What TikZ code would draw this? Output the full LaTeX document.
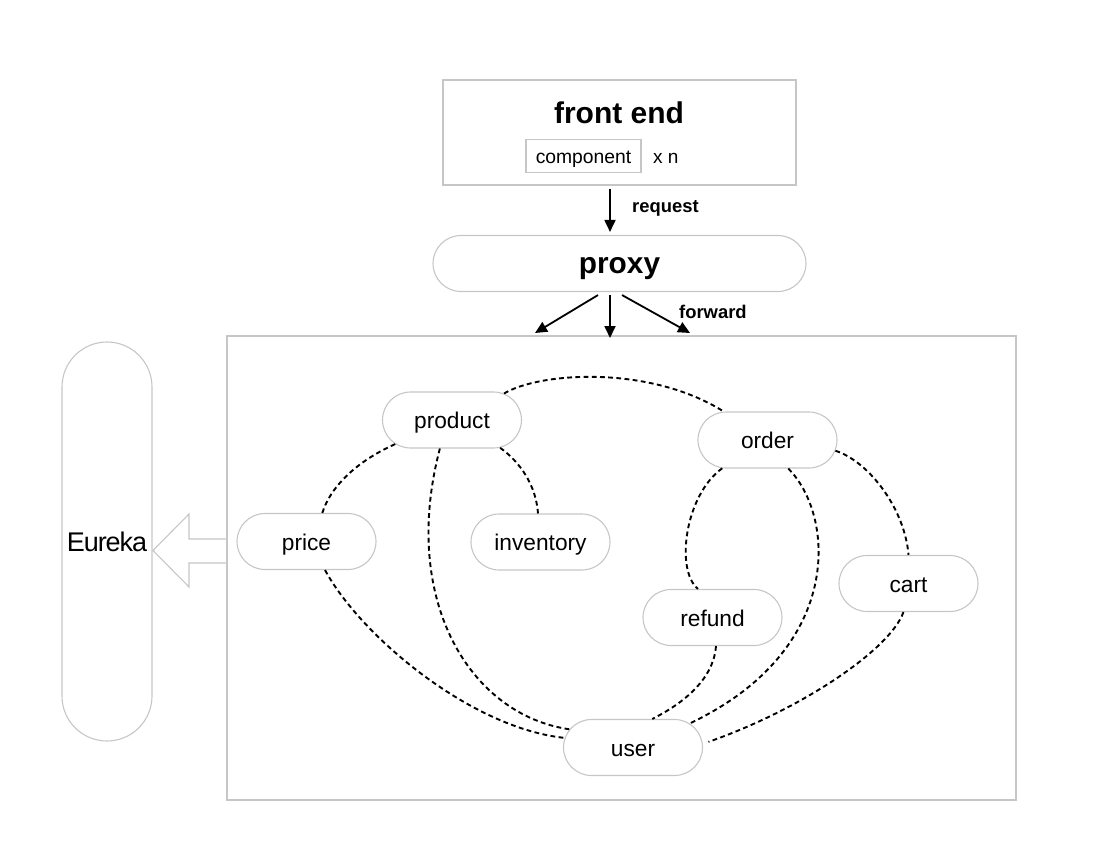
\documentclass[tikz,border=0pt]{standalone}
\usepackage{fontspec}
\setmainfont{Liberation Sans}
\usetikzlibrary{shapes.misc,arrows.meta}
\definecolor{bordergray}{HTML}{C6C6C6}
\begin{document}
\begin{tikzpicture}[x=1pt,y=-1pt,
  pill/.style={draw=bordergray,line width=1.1pt,rounded rectangle,minimum width=139pt,minimum height=56pt,inner sep=0pt,
    font=\fontsize{22.7}{26}\selectfont,text height=17pt,text depth=0pt},
  frame/.style={draw=bordergray,line width=1.1pt,inner sep=0pt},
  dep/.style={line width=1.9pt,dash pattern=on 4.8pt off 3.4pt},
  flow/.style={line width=1.8pt,-{Triangle[length=12pt,width=11pt]}},
  lab/.style={font=\bfseries\fontsize{18.4}{21}\selectfont,anchor=base west,inner sep=0pt}]
\useasboundingbox (0,0) rectangle (1112,848);

% front end
\node[frame,minimum width=353pt,minimum height=105pt] (fe) at (619.5,132.5) {};
\node[font=\bfseries\fontsize{30}{34}\selectfont,anchor=base,inner sep=0pt] (fet) at (619,123.5) {front end};
\node[frame,minimum width=115pt,minimum height=33pt,font=\fontsize{19.3}{22}\selectfont,text height=16pt,text depth=0pt] (comp) at (583.5,156) {component};
\node[font=\fontsize{19}{22}\selectfont,anchor=base west,inner sep=0pt] (xn) at (653,164) {x n};

% proxy
\node[pill,minimum width=373pt,font=\bfseries\fontsize{29.8}{33}\selectfont,text height=19pt] (proxy) at (619.5,263.5) {proxy};

% services frame
\node[frame,minimum width=789pt,minimum height=464pt] (svc) at (621.5,568) {};

% Eureka
\node[draw=bordergray,line width=1.1pt,rounded corners=45pt,minimum width=90pt,minimum height=399pt,inner sep=0pt,
  font=\fontsize{27}{31}\selectfont\addfontfeatures{LetterSpace=-4},text height=19pt,text depth=0pt] (eureka) at (107,541.5) {Eureka};

% hollow arrow to Eureka
\draw[draw=bordergray,line width=1.1pt,line join=miter]
  (227,539) -- (189,539) -- (189,514) -- (153,550.5) -- (189,587) -- (189,563) -- (227,563);

% services
\node[pill] (product) at (452,420) {product};
\node[pill] (inventory) at (540.5,542) {inventory};
\node[pill] (price) at (306.5,541.5) {price};
\node[pill] (order) at (767.5,440) {order};
\node[pill] (refund) at (712.5,617.5) {refund};
\node[pill] (cart) at (908.5,583.5) {cart};
\node[pill] (user) at (633,747.5) {user};

% request arrow
\draw[flow,shorten <=3pt,shorten >=3pt] ([xshift=-9.5pt]fe.south) -- ([xshift=-9.5pt]proxy.north);
\node[lab] (req) at (632,213) {request};

% forward arrows
\coordinate (f1) at (535,333);
\coordinate (f2) at (610,338);
\coordinate (f3) at (690,333);
\draw[flow] ([xshift=-21.5pt,yshift=-3pt]proxy.south) -- (f1);
\draw[flow] ([xshift=-9.5pt,yshift=-3pt]proxy.south) -- (f2);
\draw[flow] ([xshift=2.5pt,yshift=-3pt]proxy.south) -- (f3);
\node[lab] (fwd) at (679,318) {forward};

% dependencies
\draw[dep] (product.27) .. controls (540,372) and (650,365) .. (order.147);
\draw[dep] (product.203) .. controls (355,462) and (330,488) .. (price.61);
\draw[dep] (product.247) .. controls (400,600) and (470,715) .. (user.164);
\draw[dep] (product.330) .. controls (520,462) and (536,485) .. (inventory.95);
\draw[dep] (price.303) .. controls (360,635) and (470,728) .. (user.172);
\draw[dep] (order.212) .. controls (685,495) and (675,570) .. (refund.117);
\draw[dep] (order.306) .. controls (835,515) and (845,650) .. (user.23);
\draw[dep] (order.351) .. controls (870,462) and (905,510) .. (cart.90);
\draw[dep] (refund.277) .. controls (714,675) and (690,700) .. (user.56);
\draw[dep,shorten >=6pt] (cart.260) .. controls (890,650) and (800,710) .. (user.3);
\end{tikzpicture}
\end{document}
